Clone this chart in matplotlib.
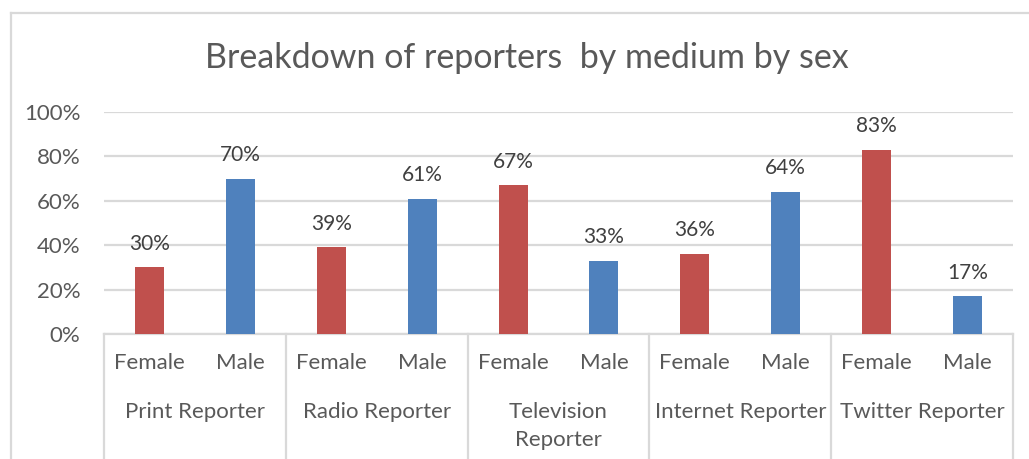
"""
Bar chart of reporter counts by medium, split by sex, drawn with
matplotlib in an office-chart style (two-level category axis).
"""

import numpy as np
import matplotlib
matplotlib.use("Agg")
import matplotlib.pyplot as plt
from matplotlib.lines import Line2D
from matplotlib.ticker import PercentFormatter

# Data
# ----------------------------------------------------------------------
MEDIA = ["Print Reporter", "Radio Reporter", "Television\nReporter",
         "Internet Reporter", "Twitter Reporter"]
SEXES = ["Female", "Male"]
FEMALE_SHARE = [0.30, 0.39, 0.67, 0.36, 0.83]
MALE_SHARE = [0.70, 0.61, 0.33, 0.64, 0.17]
Y_TICKS = [0.0, 0.2, 0.4, 0.6, 0.8, 1.0]
TITLE = "Breakdown of reporters  by medium by sex"
# ----------------------------------------------------------------------

RED = "#C0504D"
BLUE = "#4F81BD"
TEXT = "#595959"
GRID = "#D9D9D9"
FONT = ["Lato", "DejaVu Sans"]
BAR_WIDTH = 0.32
LABEL_SIZE = 16

plt.rcParams["font.family"] = FONT

fig = plt.figure(figsize=(10.29, 4.59), dpi=100)
ax = fig.add_axes([104 / 1029, 1 - 334 / 459, (1013 - 104) / 1029, (334 - 112) / 459])

# interleave female/male values so each medium gets two adjacent bars
values = []
colors = []
for f, m in zip(FEMALE_SHARE, MALE_SHARE):
    values += [f, m]
    colors += [RED, BLUE]
x = np.arange(len(values))

bars = ax.bar(x, values, width=BAR_WIDTH, color=colors, zorder=3)
for xi, v in zip(x, values):
    ax.annotate("{:.0f}%".format(v * 100), (xi, v), xytext=(0, 17),
                textcoords="offset points", ha="center", va="center",
                fontsize=15, color="#404040")

ax.set_xlim(-0.5, len(values) - 0.5)
ax.set_ylim(0, 1.0)
ax.set_yticks(Y_TICKS)
ax.yaxis.set_major_formatter(PercentFormatter(1.0, decimals=0))
ax.tick_params(axis="y", length=0, labelsize=LABEL_SIZE, labelcolor=TEXT, pad=17)
ax.grid(axis="y", color=GRID, linewidth=1.6, zorder=0)
ax.set_xticks([])
for side in ["top", "right", "left"]:
    ax.spines[side].set_visible(False)
ax.spines["bottom"].set_color(GRID)
ax.spines["bottom"].set_linewidth(1.6)

# two-level category labels
trans = ax.get_xaxis_transform()
for xi in x:
    ax.text(xi, -0.13, SEXES[xi % 2], transform=trans, ha="center",
            va="center", fontsize=LABEL_SIZE, color=TEXT)
for i, name in enumerate(MEDIA):
    ax.text(2 * i + 0.5, -0.305, name, transform=trans, ha="center",
            va="top", fontsize=LABEL_SIZE, color=TEXT, linespacing=1.5)
for b in np.arange(-0.5, len(values), 2):
    ax.add_line(Line2D([b, b], [0, -0.6], transform=trans, color=GRID,
                       linewidth=1.6, clip_on=False))

fig.text(0.512, 1 - 58 / 459, TITLE, ha="center", va="center",
         fontsize=24.5, color=TEXT)

# chart frame
fig.add_artist(Line2D([11 / 1029, 11 / 1029], [0, 1 - 13 / 459],
                      transform=fig.transFigure, color=GRID, linewidth=1.6))
fig.add_artist(Line2D([11 / 1029, 1], [1 - 13 / 459, 1 - 13 / 459],
                      transform=fig.transFigure, color=GRID, linewidth=1.6))

fig.savefig("out.png", dpi=100)
